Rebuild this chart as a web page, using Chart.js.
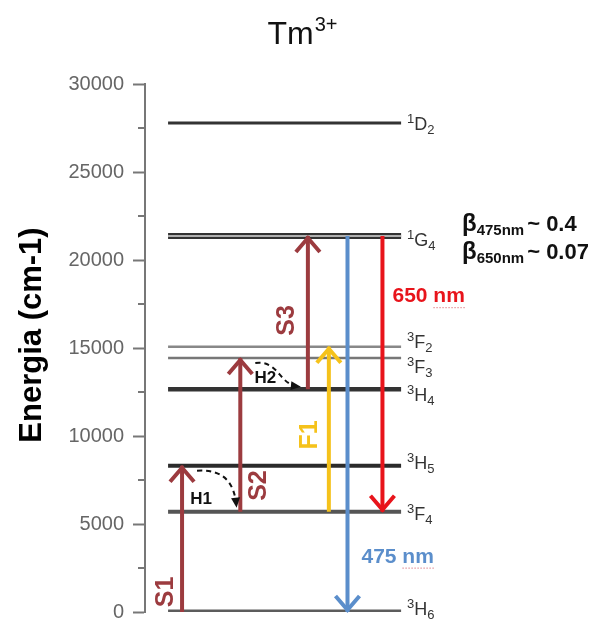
<!DOCTYPE html>
<html>
<head>
<meta charset="utf-8">
<script src="https://cdn.jsdelivr.net/npm/chart.js@4.4.1/dist/chart.umd.min.js"></script>
<style>
  html, body { margin: 0; padding: 0; background: #fff; }
  #wrap { width: 598px; height: 621px; }
</style>
</head>
<body>
<div id="wrap"><canvas id="tmChart"></canvas></div>
<script>
// energy levels of Tm3+ (cm-1)
const levelNames = ['3H6', '3F4', '3H5', '3H4', '3F3', '3F2', '1G4', '1D2'];
const levelEnergy = [0, 5700, 8310, 12650, 14430, 15070, 21360, 27780];
const yTickValues = [0, 5000, 10000, 15000, 20000, 25000, 30000];

// transitions (arrows)
const arrowNames = ['S1', 'S2', 'S3', 'F1', '475 nm', '650 nm'];
const arrowFrom = ['3H6', '3F4', '3H4', '3F4', '1G4', '1G4'];
const arrowTo = ['3H5', '3F3', '1G4', '3F2', '3H6', '3F4'];
const arrowColumn = [0.6, 3.1, 6.0, 6.9, 7.7, 9.2];

// non radiative transfers (dashed)
const transferNames = ['H1', 'H2'];
const transferFrom = ['S1', 'S2'];
const transferTo = ['S2', 'S3'];

// branching ratios
const branchLines = ['475nm', '650nm'];
const branchValues = ['0.4', '0.07'];

const FONT = '"Liberation Sans", Arial, sans-serif';
const energyOf = name => levelEnergy[levelNames.indexOf(name)];

const arrowColors = {
  'S1': '#9c3b3f', 'S2': '#9c3b3f', 'S3': '#9c3b3f',
  'F1': '#f5c21b', '475 nm': '#5b8ecb', '650 nm': '#e8141b'
};
const levelStyle = {
  '3H6': ['#5c5c5c', 5], '3F4': ['#555', 4], '3H5': ['#2b2b2b', 4], '3H4': ['#333', 4.5],
  '3F3': ['#777', 2.5], '3F2': ['#888', 2.5], '1G4': ['#333', 6], '1D2': ['#333', 3]
};

const datasets = [];
arrowNames.forEach((name, i) => {
  datasets.push({
    label: name,
    data: [{x: arrowColumn[i], y: energyOf(arrowFrom[i])}, {x: arrowColumn[i], y: energyOf(arrowTo[i])}],
    borderColor: arrowColors[name],
    borderWidth: 4,
    pointRadius: 0
  });
});
// light core of the doubled 1G4 line
datasets.push({
  label: '1G4 core',
  data: [{x: 0, y: energyOf('1G4')}, {x: 10, y: energyOf('1G4')}],
  borderColor: '#b0b0b0',
  borderWidth: 2,
  pointRadius: 0
});
levelNames.forEach((name, i) => {
  datasets.push({
    label: name,
    data: [{x: 0, y: levelEnergy[i]}, {x: 10, y: levelEnergy[i]}],
    borderColor: levelStyle[name][0],
    borderWidth: levelStyle[name][1],
    pointRadius: 0
  });
});

function chevron(ctx, tx, ty, dx, dy, color) {
  const L = Math.hypot(dx, dy), ux = dx / L, uy = dy / L;
  const half = 12, len = 14;
  tx -= ux * 2; ty -= uy * 2;
  const bx = tx - ux * len, by = ty - uy * len;
  ctx.beginPath();
  ctx.moveTo(bx - uy * half, by + ux * half);
  ctx.lineTo(tx, ty);
  ctx.lineTo(bx + uy * half, by - ux * half);
  ctx.strokeStyle = color;
  ctx.lineWidth = 4;
  ctx.lineJoin = 'miter';
  ctx.lineCap = 'butt';
  ctx.stroke();
}

function drawTerm(ctx, x, y, name) {
  const base = y + 6.5;
  ctx.fillStyle = '#333';
  ctx.textAlign = 'left';
  ctx.textBaseline = 'alphabetic';
  ctx.font = '13px ' + FONT;
  ctx.fillText(name[0], x, base - 7);
  let w = ctx.measureText(name[0]).width;
  ctx.font = '18px ' + FONT;
  ctx.fillText(name[1], x + w, base);
  w += ctx.measureText(name[1]).width;
  ctx.font = '13px ' + FONT;
  ctx.fillText(name[2], x + w, base + 4);
}

function rotatedText(ctx, text, x, y, font, color) {
  ctx.save();
  ctx.translate(x, y);
  ctx.rotate(-Math.PI / 2);
  ctx.font = font;
  ctx.fillStyle = color;
  ctx.textAlign = 'center';
  ctx.textBaseline = 'middle';
  ctx.fillText(text, 0, 0);
  ctx.restore();
}

// where the arrow labels sit: [fraction along arrow from its low end, x offset px]
const arrowLabelPlace = {
  'S1': [0.137, -16], 'S2': [0.17, 19], 'S3': [0.45, -21], 'F1': [0.466, -19],
  '475 nm': [0.146, 14], '650 nm': [0.78, 10]
};
const termShift = {'3F2': -5, '3F3': 8, '3H4': 5, '3H5': -3, '3F4': 2, '1G4': 3, '1D2': 0, '3H6': -4};

const diagramPlugin = {
  id: 'diagram',
  afterDraw(chart) {
    const {ctx, scales: {x, y}, chartArea} = chart;
    ctx.save();

    // minor ticks
    ctx.strokeStyle = '#777';
    ctx.lineWidth = 2;
    y.ticks.forEach(t => {
      if (yTickValues.includes(t.value)) return;
      const py = y.getPixelForValue(t.value);
      ctx.beginPath();
      ctx.moveTo(chartArea.left - 7, py);
      ctx.lineTo(chartArea.left, py);
      ctx.stroke();
    });

    // arrow heads
    arrowNames.forEach((name, i) => {
      const pts = chart.getDatasetMeta(i).data;
      chevron(ctx, pts[1].x, pts[1].y, pts[1].x - pts[0].x, pts[1].y - pts[0].y, arrowColors[name]);
    });

    // dashed transfers
    transferNames.forEach((name, i) => {
      const a = chart.getDatasetMeta(arrowNames.indexOf(transferFrom[i])).data[1];
      const b = chart.getDatasetMeta(arrowNames.indexOf(transferTo[i])).data[0];
      const sx = a.x + 15, sy = a.y + 5;
      const ex = b.x - (i === 0 ? 4 : 10), ey = b.y - (i === 0 ? 7 : 3);
      const dx = ex - sx, dy = ey - sy;
      let c1x, c1y, c2x, c2y;
      if (i === 0) { c1x = sx + dx * 0.75; c1y = sy - 2; c2x = ex - 2; c2y = sy + dy * 0.45; }
      else { c1x = sx + dx * 0.55; c1y = sy - 3; c2x = ex - dx * 0.45; c2y = ey - 2; }
      ctx.beginPath();
      ctx.setLineDash([5, 4]);
      ctx.moveTo(sx, sy);
      ctx.bezierCurveTo(c1x, c1y, c2x, c2y, ex, ey);
      ctx.strokeStyle = '#111';
      ctx.lineWidth = 2;
      ctx.stroke();
      ctx.setLineDash([]);
      const L = Math.hypot(ex - c2x, ey - c2y), ux = (ex - c2x) / L, uy = (ey - c2y) / L;
      ctx.beginPath();
      ctx.moveTo(ex + ux * 3, ey + uy * 3);
      ctx.lineTo(ex - ux * 7 - uy * 4.5, ey - uy * 7 + ux * 4.5);
      ctx.lineTo(ex - ux * 7 + uy * 4.5, ey - uy * 7 - ux * 4.5);
      ctx.closePath();
      ctx.fillStyle = '#111';
      ctx.fill();
      ctx.font = 'bold 17px ' + FONT;
      ctx.textAlign = 'center';
      ctx.textBaseline = 'middle';
      const lx = i === 0 ? a.x + 19 : a.x + 25;
      const ly = i === 0 ? a.y + 34 : a.y + 20;
      ctx.fillText(name, lx, ly);
    });

    // arrow labels
    arrowNames.forEach((name, i) => {
      const pts = chart.getDatasetMeta(i).data;
      const [f, off] = arrowLabelPlace[name];
      const e0 = energyOf(arrowFrom[i]), e1 = energyOf(arrowTo[i]);
      const lo = Math.min(e0, e1), hi = Math.max(e0, e1);
      const py = y.getPixelForValue(lo + f * (hi - lo));
      const px = pts[0].x + off;
      if (name.indexOf('nm') < 0) {
        rotatedText(ctx, name, px, py, 'bold 25px ' + FONT, arrowColors[name]);
      } else {
        ctx.font = 'bold 21px ' + FONT;
        ctx.fillStyle = arrowColors[name];
        ctx.textAlign = 'left';
        ctx.textBaseline = 'middle';
        ctx.fillText(name, px, py);
        const w0 = ctx.measureText(name.split(' ')[0] + ' ').width;
        const w1 = ctx.measureText(name).width;
        ctx.beginPath();
        ctx.setLineDash([1.5, 1.5]);
        ctx.strokeStyle = 'rgba(210,80,90,0.7)';
        ctx.lineWidth = 1;
        ctx.moveTo(px + w0, py + 11);
        ctx.lineTo(px + w1, py + 11);
        ctx.stroke();
        ctx.setLineDash([]);
      }
    });

    // level terms
    levelNames.forEach((name, i) => {
      drawTerm(ctx, x.getPixelForValue(10) + 6, y.getPixelForValue(levelEnergy[i]) + termShift[name], name);
    });

    // branching ratios
    branchLines.forEach((sub, i) => {
      const bx = 462, by = 231 + i * 28;
      ctx.fillStyle = '#111';
      ctx.textAlign = 'left';
      ctx.textBaseline = 'alphabetic';
      ctx.font = 'bold 24px ' + FONT;
      ctx.fillText('\u03B2', bx, by);
      let w = ctx.measureText('\u03B2').width;
      ctx.font = 'bold 15px ' + FONT;
      ctx.fillText(sub, bx + w, by + 4);
      w += ctx.measureText(sub).width + 3;
      ctx.font = 'bold 22px ' + FONT;
      ctx.fillText('~ ' + branchValues[i], bx + w, by);
    });

    // title
    ctx.fillStyle = '#111';
    ctx.textBaseline = 'alphabetic';
    ctx.textAlign = 'left';
    ctx.font = '32px ' + FONT;
    const tw = ctx.measureText('Tm').width;
    ctx.font = '20px ' + FONT;
    const sw = ctx.measureText('3+').width;
    const tx = 302 - (tw + sw) / 2;
    ctx.font = '32px ' + FONT;
    ctx.fillText('Tm', tx, 44);
    ctx.font = '20px ' + FONT;
    ctx.fillText('3+', tx + tw + 1, 31);

    // y axis title
    rotatedText(ctx, 'Energia (cm-1)', 32, 335, 'bold 31px ' + FONT, '#000');

    ctx.restore();
  }
};

new Chart(document.getElementById('tmChart'), {
  type: 'line',
  data: { datasets: datasets },
  options: {
    responsive: true,
    maintainAspectRatio: false,
    animation: false,
    layout: { padding: { top: 84, bottom: 9, left: 0, right: 0 } },
    plugins: { legend: { display: false }, tooltip: { enabled: false } },
    scales: {
      x: { type: 'linear', min: -0.99, max: 18.45, display: false },
      y: {
        type: 'linear',
        min: 0,
        max: 30000,
        afterFit: s => { s.width = 145; s.paddingTop = 0; s.paddingBottom = 0; },
        border: { color: '#777', width: 2 },
        grid: {
          drawOnChartArea: false,
          tickLength: 12,
          tickWidth: 2,
          tickColor: c => (c.tick && yTickValues.includes(c.tick.value)) ? '#777' : 'rgba(0,0,0,0)'
        },
        ticks: {
          stepSize: 2500,
          autoSkip: false,
          padding: 9,
          color: '#666',
          font: { family: FONT, size: 20 },
          callback: v => yTickValues.includes(v) ? String(v) : ''
        }
      }
    }
  },
  plugins: [diagramPlugin]
});
</script>
</body>
</html>
